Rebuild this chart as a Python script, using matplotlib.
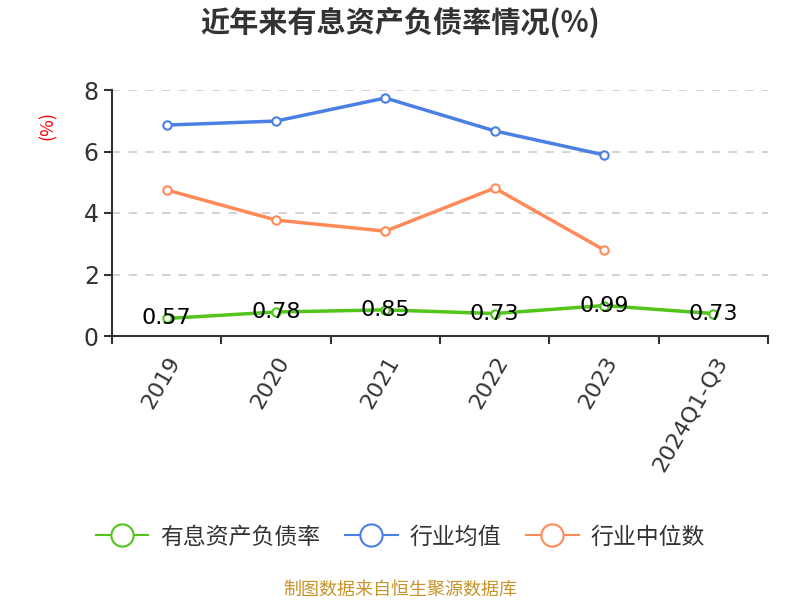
import matplotlib
matplotlib.use('Agg')
from matplotlib import pyplot as plt
from matplotlib.lines import Line2D
import numpy as np

plt.rcParams['font.family'] = ['Noto Sans CJK SC', 'DejaVu Sans']

# 数据
years = ['2019', '2020', '2021', '2022', '2023', '2024Q1-Q3']
debt_ratio = [0.57, 0.78, 0.85, 0.73, 0.99, 0.73]
industry_avg = [6.86, 6.99, 7.74, 6.67, 5.89]
industry_median = [4.75, 3.77, 3.41, 4.81, 2.80]

green = '#52c41a'
blue = '#4a7fe3'
orange = '#ff8a57'

fig = plt.figure(figsize=(8, 6), dpi=100)
ax = fig.add_axes([0.14, 0.44, 0.82, 0.41])

x = np.arange(len(years))
mk = dict(marker='o', markersize=6, markerfacecolor='white', markeredgewidth=1.5)
ax.plot(x[:len(industry_avg)], industry_avg, color=blue, lw=2.5, **mk)
ax.plot(x[:len(industry_median)], industry_median, color=orange, lw=2.5, **mk)
ax.plot(x, debt_ratio, color=green, lw=2.5, **mk)

for xi, v in zip(x, debt_ratio):
    ax.text(xi, v, f'{v:.2f}', ha='center', va='center', fontsize=16, color='black',
            family=['DejaVu Sans'])

ax.set_xlim(-0.5, len(years) - 0.5)
ax.set_ylim(0, 8)
ax.set_yticks([0, 2, 4, 6, 8])
ax.set_xticks(x)
ax.set_xticklabels(years, rotation=60, ha='right', rotation_mode='anchor')
ax.set_xticks(np.arange(-0.5, len(years)), minor=True)
ax.tick_params(axis='x', which='major', length=0, pad=12, labelsize=16, labelcolor='#333333')
ax.tick_params(axis='x', which='minor', length=6, width=1.5, color='#333333')
ax.tick_params(axis='y', length=6, width=1.5, color='#333333', labelsize=17, labelcolor='#333333')
for lab in ax.get_xticklabels() + ax.get_yticklabels():
    lab.set_family(['DejaVu Sans'])

ax.grid(axis='y', linestyle=(0, (5, 5)), color='#cccccc', lw=1.2)
ax.spines['top'].set_visible(False)
ax.spines['right'].set_visible(False)
ax.spines['left'].set_color('#333333')
ax.spines['bottom'].set_color('#333333')
ax.spines['left'].set_linewidth(1.5)
ax.spines['bottom'].set_linewidth(1.5)
ax.set_axisbelow(True)

fig.text(0.5, 0.962, '近年来有息资产负债率情况(%)', ha='center', va='center',
         fontsize=21, fontweight='bold', color='#333333')
fig.text(0.06, 0.79, '(%)', ha='center', va='center', rotation=90, fontsize=13, color='red')

handles = [
    Line2D([], [], color=c, lw=1.5, marker='o', markersize=16, markerfacecolor='white', markeredgewidth=1.5)
    for c in (green, blue, orange)
]
fig.legend(handles, ['有息资产负债率', '行业均值', '行业中位数'], loc='center',
           bbox_to_anchor=(0.5, 0.105), ncol=3, frameon=False, fontsize=16.5,
           handlelength=2.3, columnspacing=1.1, handletextpad=0.5, labelcolor='#333333')

fig.text(0.5, 0.018, '制图数据来自恒生聚源数据库', ha='center', va='center',
         fontsize=13, color='#c8932a')

fig.savefig('out.png', dpi=100)
